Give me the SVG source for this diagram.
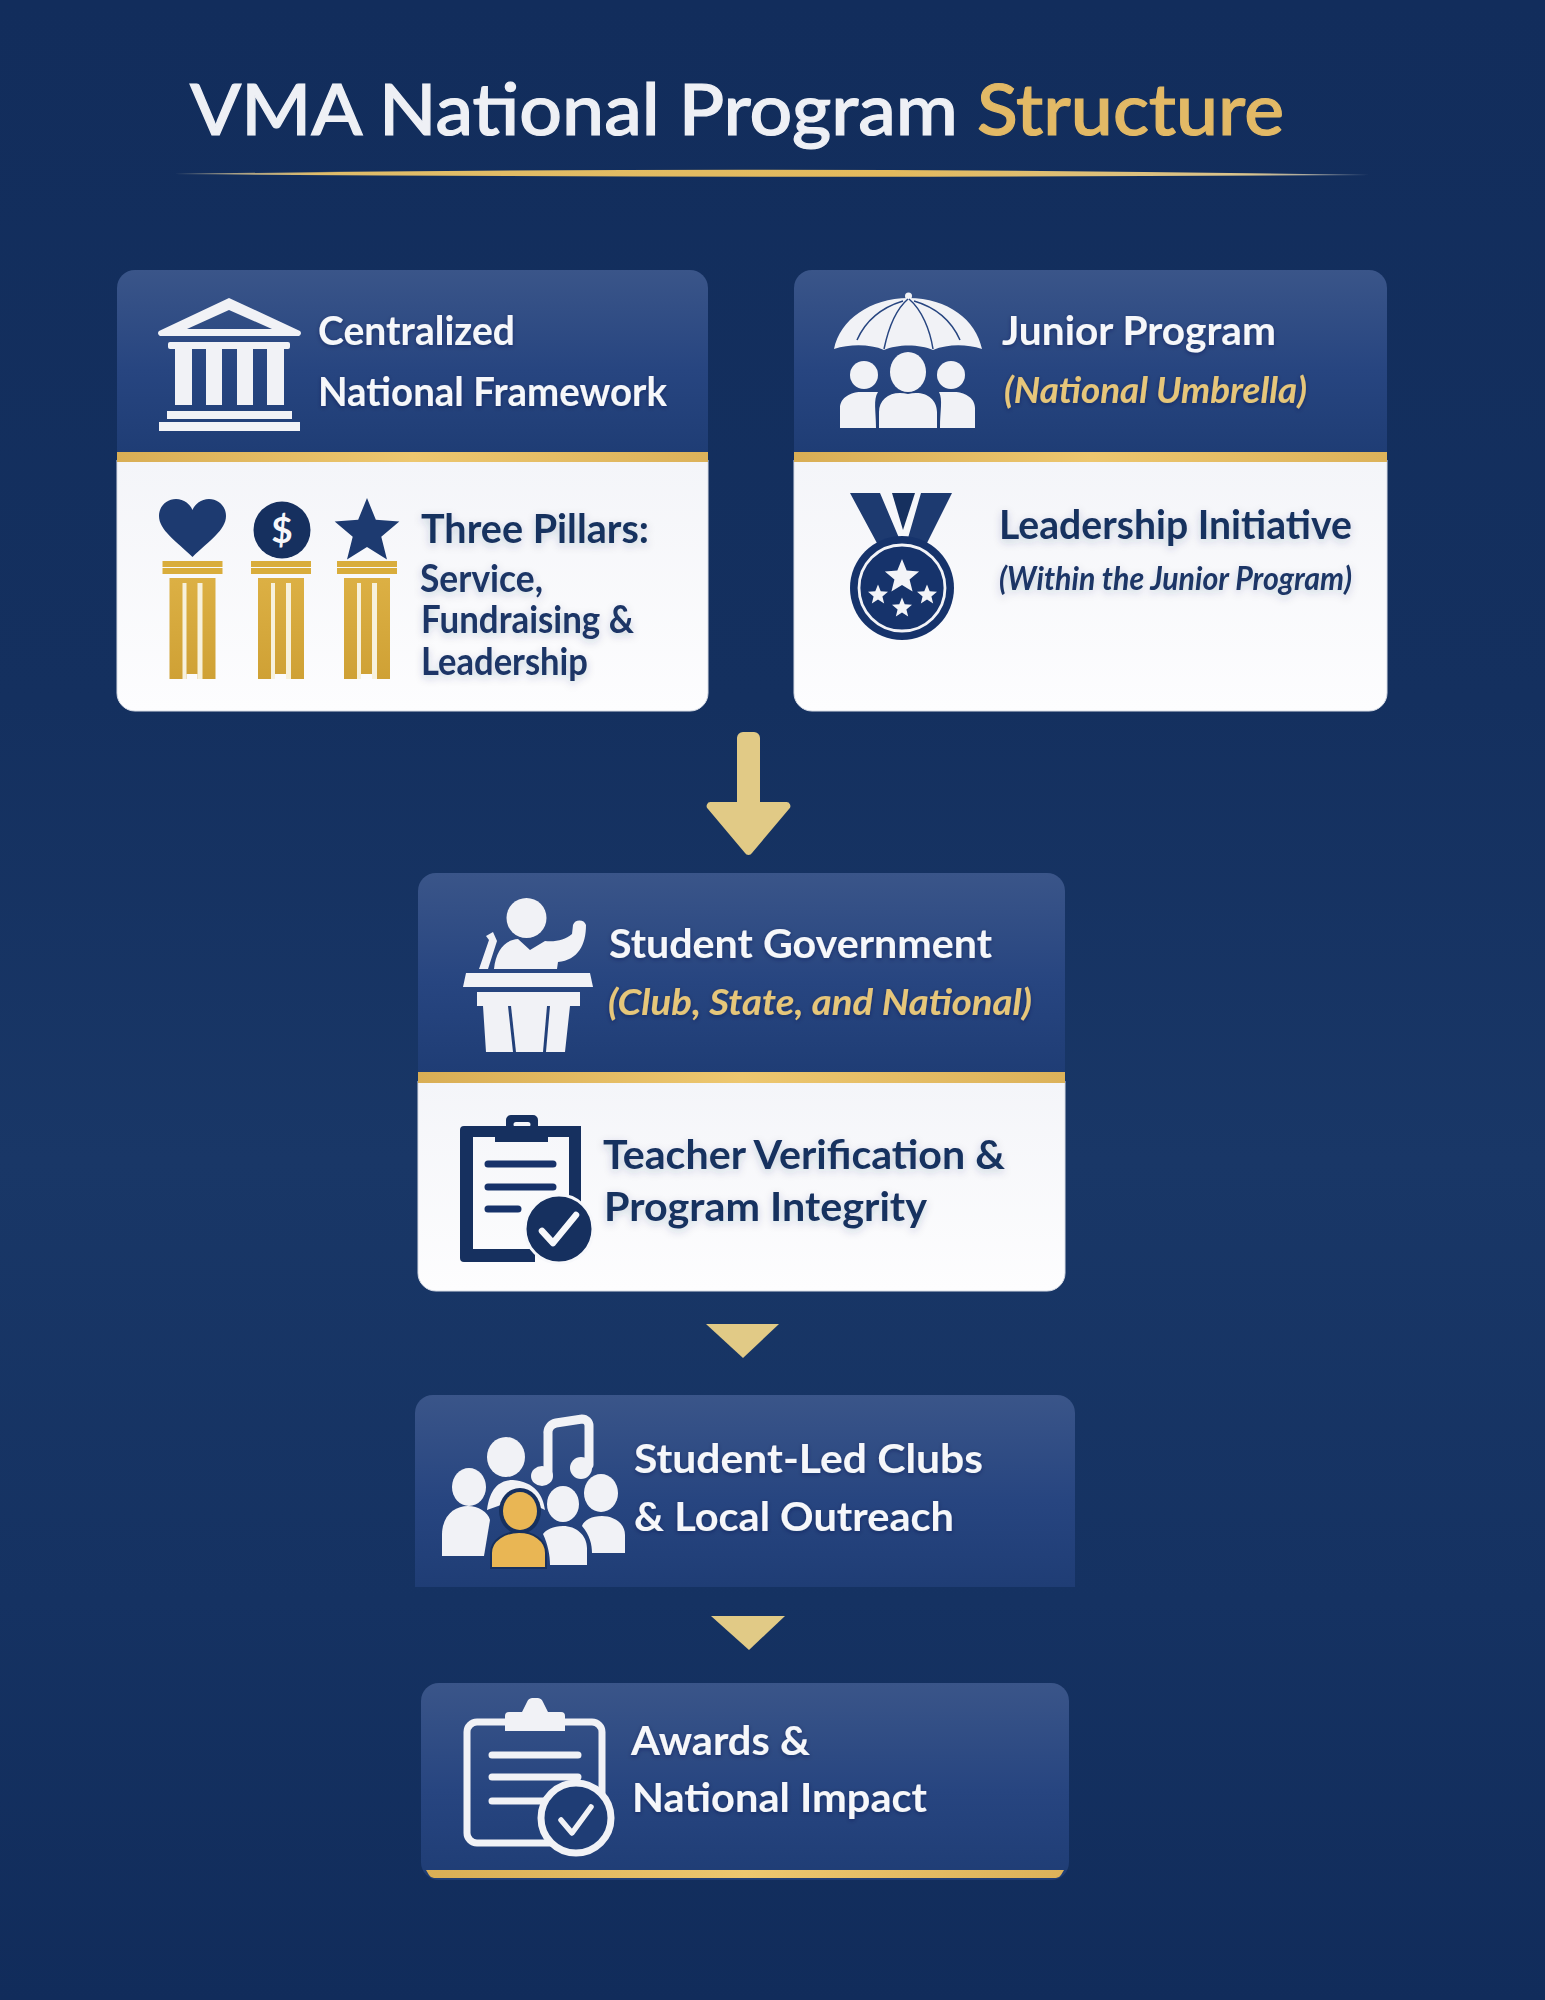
<svg xmlns="http://www.w3.org/2000/svg" xmlns:xlink="http://www.w3.org/1999/xlink" width="1545" height="2000" viewBox="0 0 1545 2000">
<defs>
<linearGradient id="bg" x1="0" y1="0" x2="0" y2="1"><stop offset="0" stop-color="#122d5c"/><stop offset=".35" stop-color="#14305f"/><stop offset=".58" stop-color="#193767"/><stop offset=".8" stop-color="#153262"/><stop offset="1" stop-color="#112c5b"/></linearGradient>
<linearGradient id="hd" x1="0" y1="0" x2="0" y2="1"><stop offset="0" stop-color="#3a5589"/><stop offset=".55" stop-color="#274580"/><stop offset="1" stop-color="#1f3d75"/></linearGradient>
<linearGradient id="wh" x1="0" y1="0" x2="0" y2="1"><stop offset="0" stop-color="#f4f5f9"/><stop offset="1" stop-color="#fdfdfe"/></linearGradient>
<linearGradient id="gd" x1="0" y1="0" x2="1" y2="0"><stop offset="0" stop-color="#d9ae55"/><stop offset=".5" stop-color="#edc76f"/><stop offset="1" stop-color="#dcb25a"/></linearGradient>
<linearGradient id="rule" x1="0" y1="0" x2="1" y2="0"><stop offset="0" stop-color="#e6d9b4" stop-opacity=".5"/><stop offset=".12" stop-color="#e0bd6a"/><stop offset=".6" stop-color="#e3ba5d"/><stop offset=".9" stop-color="#d9c48e"/><stop offset="1" stop-color="#d9d9d9" stop-opacity=".5"/></linearGradient>
<linearGradient id="col" x1="0" y1="0" x2="0" y2="1"><stop offset="0" stop-color="#dcb044"/><stop offset="1" stop-color="#cfa135"/></linearGradient>
<filter id="sh" x="-10%" y="-20%" width="120%" height="150%"><feDropShadow dx="0" dy="1.5" stdDeviation="2" flood-color="#0c1f45" flood-opacity=".4"/></filter>
<filter id="sl" x="-10%" y="-30%" width="120%" height="170%"><feDropShadow dx="0" dy="3" stdDeviation="4" flood-color="#1b3566" flood-opacity=".22"/></filter>
<polygon id="star" points="0,-1 .26,-.36 .951,-.309 .42,.137 .588,.809 0,.44 -.588,.809 -.42,.137 -.951,-.309 -.26,-.36"/>
<g id="pillar">
<rect x="-30" y="0" width="60" height="6" fill="#d9ad3c"/><rect x="-30" y="7" width="60" height="6" fill="#d9ad3c"/>
<rect x="-23" y="17" width="46" height="101" fill="url(#col)"/>
<rect x="-10" y="22" width="4" height="96" fill="#f7f1dc"/><rect x="5" y="22" width="5" height="96" fill="#f7f1dc"/>
<rect x="-6" y="113" width="11" height="5" fill="#fbfbfd"/>
</g>
</defs>
<style>
text{font-family:"Lato","Noto Sans","Liberation Sans",sans-serif;}
.h{font-size:40px;font-weight:700;fill:#f6f7fa;filter:url(#sh);}
.b{font-size:40px;font-weight:700;fill:#17305f;filter:url(#sl);}
.s{font-size:38px;font-weight:700;fill:#1b3566;filter:url(#sl);}
.gi{font-size:37px;font-weight:700;font-style:italic;fill:#e6c67a;filter:url(#sh);}
.ni{font-size:32px;font-weight:700;font-style:italic;fill:#1b3566;filter:url(#sl);}
.ic{fill:#f1f2f6;}
.icn{fill:#1d3a70;}
.dk{fill:#16305f;}
.ln{fill:none;stroke:#f1f2f6;stroke-linecap:round;}
.ar{fill:#e1ca86;}
</style>
<rect width="1545" height="2000" fill="url(#bg)"/>

<g id="title">
<text x="190" y="135" font-size="72" font-weight="500" fill="#eef0f5" stroke="#eef0f5" stroke-width="1.200" textLength="1094" lengthAdjust="spacingAndGlyphs">VMA National Program <tspan fill="#e2b966" stroke="#e2b966">Structure</tspan></text>
<path d="M174 174 Q772 165 1370 175 Q772 179 174 174Z" fill="url(#rule)"/>
</g>

<g id="connectors">
<path class="ar" d="M737 738 a6 6 0 0 1 6 -6 h11 a6 6 0 0 1 6 6 V802 h26 a4 4 0 0 1 3 7 L752 853 a4 4 0 0 1 -7 0 L708 809 a4 4 0 0 1 3 -7 H737Z"/>
<path class="ar" d="M706 1324 H779 L743 1358Z"/>
<path class="ar" d="M711 1616 H785 L749 1650Z"/>
</g>

<g id="node-framework">
<path d="M117 452 V288 a18 18 0 0 1 18 -18 H690 a18 18 0 0 1 18 18 V452Z" fill="url(#hd)"/>
<path d="M117 460 H708 V693 a18 18 0 0 1 -18 18 H135 a18 18 0 0 1 -18 -18Z" fill="url(#wh)" stroke="#d7dce6" stroke-width="1"/>
<rect x="117" y="452" width="591" height="10" fill="url(#gd)"/>
<g id="temple">
<path class="ic" fill-rule="evenodd" d="M229 298 L300 331 a3 3 0 0 1 -1 5 H160 a3 3 0 0 1 -1 -5Z M229 310 L187 329 H272Z"/>
<rect class="ic" x="168" y="342" width="122" height="7" rx="2"/>
<rect class="ic" x="175" y="349" width="17" height="56"/><rect class="ic" x="206" y="349" width="16" height="56"/><rect class="ic" x="237" y="349" width="16" height="56"/><rect class="ic" x="267" y="349" width="17" height="56"/>
<rect class="ic" x="167" y="411" width="125" height="8"/><rect class="ic" x="159" y="422" width="141" height="9"/>
</g>
<text class="h" x="318" y="345" textLength="197" lengthAdjust="spacingAndGlyphs">Centralized</text>
<text class="h" x="318" y="406" textLength="349" lengthAdjust="spacingAndGlyphs">National Framework</text>
<path class="icn" d="M192.500 557 C176 541 159 530 159 516 C159 506 167 499 176 499 C184 499 190 504 192.500 510 C195 504 201 499 209 499 C218 499 226 506 226 516 C226 530 209 541 192.500 557Z"/>
<circle cx="282" cy="530" r="28.500" class="dk"/>
<text x="282" y="543" font-size="37" font-weight="700" fill="#f6f7fa" text-anchor="middle">$</text>
<use href="#star" class="icn" transform="translate(367 532) scale(34)"/>
<use href="#pillar" transform="translate(192.500 561)"/>
<use href="#pillar" transform="translate(281 561)"/>
<use href="#pillar" transform="translate(367 561)"/>
<text class="b" x="421" y="543" textLength="228" lengthAdjust="spacingAndGlyphs">Three Pillars:</text>
<text class="s" x="420" y="592" textLength="123" lengthAdjust="spacingAndGlyphs">Service,</text>
<text class="s" x="421" y="633" textLength="213" lengthAdjust="spacingAndGlyphs">Fundraising &amp;</text>
<text class="s" x="421" y="675" textLength="167" lengthAdjust="spacingAndGlyphs">Leadership</text>
</g>

<g id="node-junior">
<path d="M794 452 V288 a18 18 0 0 1 18 -18 H1369 a18 18 0 0 1 18 18 V452Z" fill="url(#hd)"/>
<path d="M794 460 H1387 V693 a18 18 0 0 1 -18 18 H812 a18 18 0 0 1 -18 -18Z" fill="url(#wh)" stroke="#d7dce6" stroke-width="1"/>
<rect x="794" y="452" width="593" height="10" fill="url(#gd)"/>
<g id="umbrella">
<circle class="ic" cx="908.500" cy="296" r="3.500"/>
<path class="ic" d="M834 349 C840 320 870 298 908.500 298 C948 298 976 320 982 349 C966 344 948 344 933 350 C920 344 897 344 884 350 C870 344 850 344 834 349Z"/>
<path d="M908 299 C895 310 888 330 884 349 M909 299 C922 310 930 330 933 349 M903 301 C880 308 865 322 857 340 M914 301 C938 308 952 322 960 340" fill="none" stroke="#274580" stroke-width="1.500"/>
<circle class="ic" cx="864" cy="375" r="14"/><ellipse class="ic" cx="908" cy="372" rx="18" ry="20"/><circle class="ic" cx="951" cy="375" r="14"/>
<path class="ic" d="M840 428 V408 C840 397 852 392 860 392 H878 C873 400 876 410 876 428Z"/>
<path class="ic" d="M975 428 V408 C975 397 963 392 955 392 H939 C943 400 940 410 940 428Z"/>
<path class="ic" d="M879 428 V412 C879 398 892 390 908 394 C924 390 937 398 937 412 V428Z"/>
</g>
<text class="h" x="1002" y="345" textLength="274" lengthAdjust="spacingAndGlyphs">Junior Program</text>
<text class="gi" x="1004" y="403" textLength="303" lengthAdjust="spacingAndGlyphs">(National Umbrella)</text>
<g id="medal">
<path class="icn" d="M850 493 H880 L902 545 H878Z M921 493 H952 L926 545 H906Z"/>
<path class="dk" d="M892 493 H915 L903 530Z"/>
<circle class="icn" cx="902" cy="588" r="52" style="fill:#16336b"/>
<circle cx="902" cy="588" r="43" fill="none" stroke="#f3f4f8" stroke-width="2.800"/>
<use href="#star" fill="#f3f4f8" transform="translate(902 577) scale(18)"/>
<use href="#star" fill="#f3f4f8" transform="translate(878 595) scale(10.500)"/>
<use href="#star" fill="#f3f4f8" transform="translate(927 595) scale(10.500)"/>
<use href="#star" fill="#f3f4f8" transform="translate(902 608) scale(10.500)"/>
</g>
<text class="b" x="999" y="539" textLength="353" lengthAdjust="spacingAndGlyphs">Leadership Initiative</text>
<text class="ni" x="999" y="590" textLength="353" lengthAdjust="spacingAndGlyphs">(Within the Junior Program)</text>
</g>

<g id="node-student-government">
<path d="M418 1073 V891 a18 18 0 0 1 18 -18 H1047 a18 18 0 0 1 18 18 V1073Z" fill="url(#hd)"/>
<path d="M418 1081 H1065 V1273 a18 18 0 0 1 -18 18 H436 a18 18 0 0 1 -18 -18Z" fill="url(#wh)" stroke="#d7dce6" stroke-width="1"/>
<rect x="418" y="1072" width="647" height="11" fill="url(#gd)"/>
<g id="speaker">
<circle class="ic" cx="526.500" cy="918" r="20"/>
<path class="ic" d="M494 969 C496 950 505 940 518 939 L530 950 L545 941 C556 942 565 940 572 934 L573 925 a7 7 0 0 1 13 0 C586 945 578 960 558 962 L557 969Z"/>
<path class="ic" d="M479 969 L489 940 L486 936 L493 932 L497 941 L488 969Z"/>
<path class="ic" d="M466 973 H590 L593 987 H463Z"/>
<path class="ic" d="M477 992 H580 V1006 H570 L565 1052 H546 L550 1006 H508 L513 1052 H486 L483 1006 H477Z"/>
<path class="ic" d="M511 1006 H547 L543 1052 H516Z"/>
</g>
<text class="h" x="609" y="958" textLength="383" lengthAdjust="spacingAndGlyphs">Student Government</text>
<text class="gi" x="608" y="1015" textLength="424" lengthAdjust="spacingAndGlyphs">(Club, State, and National)</text>
<g id="clipboard">
<path class="dk" d="M464 1126 H581 V1206 H569 V1137 H473 V1249 H535 V1262 H464 a4 4 0 0 1 -4 -4 V1130 a4 4 0 0 1 4 -4Z"/>
<path class="dk" fill-rule="evenodd" d="M495 1142 V1130 a4 4 0 0 1 4 -4 H506 V1120 a5 5 0 0 1 5 -5 H533 a5 5 0 0 1 5 5 V1126 H544 a4 4 0 0 1 4 4 V1142Z M516 1122 a2 2 0 0 0 0 5 H528 a2 2 0 0 0 0 -5Z"/>
<path d="M488 1164 H553 M488 1187 H553 M488 1209 H518" stroke="#17326a" stroke-width="7" stroke-linecap="round" fill="none"/>
<circle class="dk" cx="559" cy="1229" r="34" stroke="#f7f8fb" stroke-width="3"/>
<path d="M542 1231 L553 1243 L576 1215" fill="none" stroke="#f7f8fb" stroke-width="6.500" stroke-linecap="round" stroke-linejoin="round"/>
</g>
<text class="b" x="603" y="1169" textLength="402" lengthAdjust="spacingAndGlyphs">Teacher Verification &amp;</text>
<text class="b" x="604" y="1221" textLength="323" lengthAdjust="spacingAndGlyphs">Program Integrity</text>
</g>

<g id="node-clubs">
<path d="M415 1587 V1413 a18 18 0 0 1 18 -18 H1057 a18 18 0 0 1 18 18 V1587Z" fill="url(#hd)"/>
<g id="people">
<path d="M548 1475 V1434 a10 10 0 0 1 8 -11 L582 1419 a7 7 0 0 1 7 7 V1465" fill="none" stroke="#f1f2f6" stroke-width="9" stroke-linecap="round"/>
<ellipse class="ic" cx="542" cy="1476" rx="11" ry="10"/><ellipse class="ic" cx="581" cy="1468" rx="11" ry="11"/>
<ellipse class="ic" cx="506" cy="1457" rx="19" ry="20"/>
<path class="ic" d="M487 1510 C490 1487 500 1480 513 1480 C535 1482 543 1495 545 1510 L520 1498Z"/>
<ellipse class="ic" cx="469" cy="1487" rx="17" ry="19"/>
<path class="ic" d="M442 1556 V1535 C442 1515 455 1506 468 1506 C478 1506 488 1512 490 1520 L484 1556Z"/>
<ellipse class="ic" cx="601" cy="1493" rx="17" ry="19"/>
<path class="ic" d="M625 1553 V1535 C625 1522 612 1516 602 1516 C592 1516 584 1520 582 1526 C590 1535 592 1545 592 1553Z"/>
<ellipse class="ic" cx="563" cy="1504" rx="16" ry="18"/>
<path class="ic" d="M587 1565 V1548 C587 1535 576 1526 563 1526 C553 1526 546 1530 543 1534 C548 1545 550 1555 550 1565Z"/>
<ellipse cx="520" cy="1511" rx="21" ry="23" fill="#16305f"/>
<ellipse cx="520" cy="1511" rx="17" ry="19" fill="#e9b654"/>
<path d="M491 1568 V1553 C491 1540 505 1532 519 1532 C533 1532 546 1540 546 1553 V1568Z" fill="#e9b654" stroke="#16305f" stroke-width="2"/>
</g>
<text class="h" x="634" y="1473" textLength="349" lengthAdjust="spacingAndGlyphs">Student-Led Clubs</text>
<text class="h" x="634" y="1531" textLength="320" lengthAdjust="spacingAndGlyphs">&amp; Local Outreach</text>
</g>

<g id="node-awards">
<path d="M421 1701 a18 18 0 0 1 18 -18 H1051 a18 18 0 0 1 18 18 V1862 a18 18 0 0 1 -18 18 H439 a18 18 0 0 1 -18 -18Z" fill="url(#hd)"/>
<path d="M426 1870 H1064 L1061 1875 a6 6 0 0 1 -5 3 H434 a6 6 0 0 1 -5 -3Z" fill="url(#gd)"/>
<g id="award-clipboard">
<rect x="467" y="1722" width="135" height="121" rx="10" fill="none" stroke="#f1f2f6" stroke-width="7"/>
<path class="ic" d="M505 1731 V1716 a4 4 0 0 1 4 -4 H522 L527 1702 a6 6 0 0 1 5 -4 H538 a6 6 0 0 1 5 4 L548 1712 H561 a4 4 0 0 1 4 4 V1731Z"/>
<path d="M492 1755 H578 M492 1777 H578 M492 1801 H545" class="ln" stroke-width="7"/>
<circle cx="576" cy="1818" r="35" fill="#1f3d75" stroke="#f1f2f6" stroke-width="7"/>
<path d="M561 1820 L572 1833 L591 1807" fill="none" stroke="#f1f2f6" stroke-width="5.500" stroke-linecap="round" stroke-linejoin="round"/>
</g>
<text class="h" x="631" y="1755" textLength="179" lengthAdjust="spacingAndGlyphs">Awards &amp;</text>
<text class="h" x="632" y="1812" textLength="295" lengthAdjust="spacingAndGlyphs">National Impact</text>
</g>
</svg>
